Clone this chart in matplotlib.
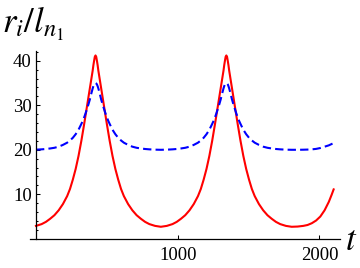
import matplotlib
matplotlib.use('Agg')
import matplotlib.pyplot as plt
from matplotlib.ticker import MultipleLocator

plt.rcParams['font.family'] = ['Liberation Serif', 'DejaVu Serif']
plt.rcParams['mathtext.fontset'] = 'stix'

# values
t = [0, 40, 70, 100, 130, 160, 190, 220, 240, 260, 280, 300, 320, 330, 340, 350, 360, 370, 380, 390,
     400, 405, 410, 415, 420, 425, 430, 435, 440, 450, 460, 470, 480, 490, 500, 510, 520, 540, 560,
     580, 600, 620, 650, 680, 710, 740, 770, 800, 840, 881,
     923, 963, 993, 1023, 1053, 1083, 1113, 1143, 1163, 1183, 1203, 1223, 1243, 1253, 1263, 1273, 1283,
     1293, 1303, 1313, 1323, 1328, 1333, 1338, 1343, 1348, 1353, 1358, 1363, 1373, 1383, 1393, 1403,
     1413, 1423, 1433, 1443, 1463, 1483, 1503, 1523, 1543, 1573, 1603, 1633, 1663, 1693, 1723, 1763, 1804,
     1846, 1886, 1916, 1946, 1976, 2006, 2036, 2066, 2086, 2100]

r_red = [2.9, 3.3, 3.8, 4.5, 5.3, 6.4, 7.8, 9.6, 11.2, 13.3, 15.7, 18.6, 22.0, 23.9, 25.8, 27.8, 29.8, 31.8, 33.8, 35.8,
         37.8, 39.0, 40.0, 40.9, 41.2, 40.9, 40.0, 39.0, 37.8, 35.8, 33.8, 31.8, 29.8, 27.8, 25.8, 23.9, 22.0, 18.6, 15.7,
         13.3, 11.2, 9.6, 7.8, 6.4, 5.3, 4.5, 3.8, 3.3, 2.9, 2.7,
         2.9, 3.3, 3.8, 4.5, 5.3, 6.4, 7.8, 9.6, 11.2, 13.3, 15.7, 18.6, 22.0, 23.9, 25.8, 27.8, 29.8,
         31.8, 33.8, 35.8, 37.8, 39.0, 40.0, 40.9, 41.2, 40.9, 40.0, 39.0, 37.8, 35.8, 33.8, 31.8, 29.8,
         27.8, 25.8, 23.9, 22.0, 18.6, 15.7, 13.3, 11.2, 9.6, 7.8, 6.4, 5.3, 4.5, 3.8, 3.3, 2.9, 2.7,
         2.75, 2.9, 3.1, 3.5, 4.1, 5.0, 6.4, 8.3, 9.9, 11.1]

r_blue = [20.03, 20.1, 20.18, 20.3, 20.45, 20.7, 21.1, 21.6, 22.1, 22.7, 23.5, 24.5, 25.8, 26.5, 27.3, 28.2, 29.2, 30.2, 31.3, 32.6,
          33.8, 34.3, 34.7, 34.9, 35.0, 34.9, 34.7, 34.3, 33.8, 32.6, 31.3, 30.2, 29.2, 28.2, 27.3, 26.5, 25.8, 24.5, 23.5,
          22.7, 22.1, 21.6, 21.1, 20.7, 20.45, 20.3, 20.18, 20.1, 20.03, 20.0,
          20.03, 20.1, 20.18, 20.3, 20.45, 20.7, 21.1, 21.6, 22.1, 22.7, 23.5, 24.5, 25.8, 26.5, 27.3, 28.2, 29.2,
          30.2, 31.3, 32.6, 33.8, 34.3, 34.7, 34.9, 35.0, 34.9, 34.7, 34.3, 33.8, 32.6, 31.3, 30.2, 29.2,
          28.2, 27.3, 26.5, 25.8, 24.5, 23.5, 22.7, 22.1, 21.6, 21.1, 20.7, 20.45, 20.3, 20.18, 20.1, 20.03, 20.0,
          20.0, 20.02, 20.05, 20.1, 20.2, 20.4, 20.7, 21.0, 21.3, 21.5]

x_ticks = [1000, 2000]
y_ticks = [10, 20, 30, 40]

fig = plt.figure(figsize=(3.6, 2.68), dpi=100)
ax = fig.add_axes([0.0842, 0.109, 0.8603, 0.699])

ax.plot(t, r_red, color='#ff0000', lw=1.5)
ax.plot(t, r_blue, color='#0000ff', lw=1.5, dashes=(4, 2))

ax.set_xlim(-40, 2145)
ax.set_ylim(0, 42.1)

# mathematica style axes
ax.spines['top'].set_visible(False)
ax.spines['right'].set_visible(False)
ax.spines['left'].set_position(('data', 0))
ax.spines['left'].set_linewidth(0.9)
ax.spines['bottom'].set_linewidth(0.9)

ax.set_xticks(x_ticks)
ax.set_yticks(y_ticks)
ax.yaxis.set_minor_locator(MultipleLocator(2))
ax.tick_params(axis='both', which='major', direction='in', length=3, width=0.75,
               labelsize=13.5, colors='black')
ax.tick_params(axis='y', which='minor', direction='in', length=1.6, width=0.75)
ax.tick_params(axis='y', which='major', pad=3)
ax.tick_params(axis='x', which='major', pad=6)

fig.text(0.005, 1 - 33 / 268, r'$r_i/l_{n_1}$', fontsize=25, va='baseline', ha='left')
fig.text(345 / 360, 1 - 250 / 268, r'$t$', fontsize=25, va='baseline', ha='left')

fig.savefig('out.png', dpi=100)
